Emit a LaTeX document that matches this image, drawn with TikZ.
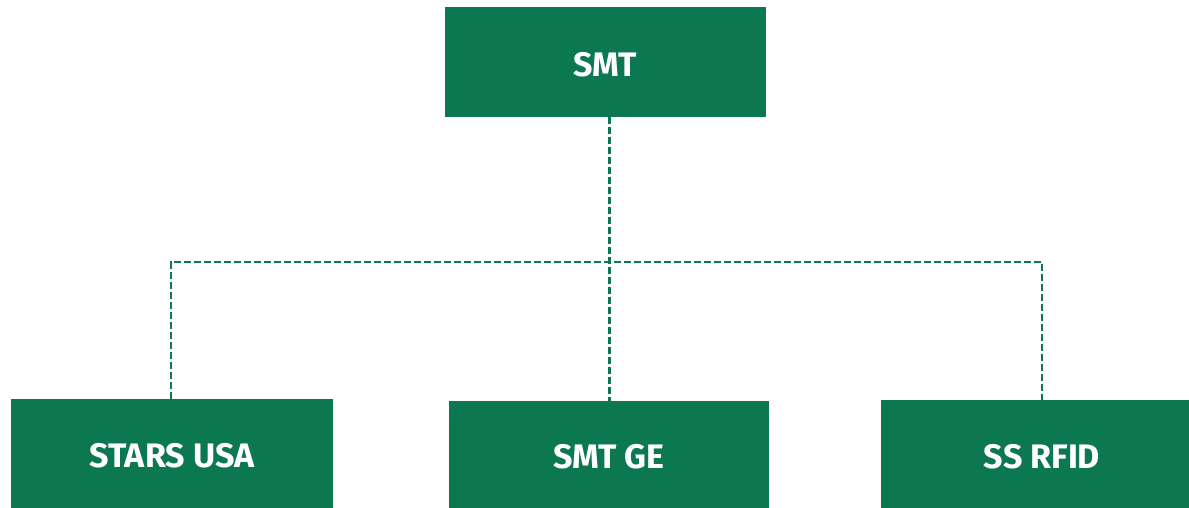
\documentclass[tikz,border=0pt]{standalone}
\usepackage{fontspec}
\setmainfont{Fira Sans}
\definecolor{smtgreen}{HTML}{0B7852}
\begin{document}
\begin{tikzpicture}[x=1pt,y=-1pt,
  orgbox/.style={fill=smtgreen, draw=none, inner sep=0pt, text=white,
    text height=28.4pt, text depth=0pt,
    font=\fontsize{34}{38}\selectfont\bfseries},
  link/.style={draw=smtgreen, line width=2.7pt, dash pattern=on 7pt off 3pt}]
\useasboundingbox (0,0) rectangle (1189,508);
\node[orgbox, minimum width=321pt, minimum height=110pt] (smt) at (605.5,62) {SMT};
\node[orgbox, minimum width=322pt, minimum height=109pt] (stars) at (172,453.5) {STARS USA};
\node[orgbox, minimum width=320pt, minimum height=107pt] (ge) at (609,454.5) {SMT GE};
\node[orgbox, minimum width=322pt, minimum height=108pt] (rfid) at (1042,454) {SS RFID};
\coordinate (hl) at (171,262);
\coordinate (hr) at (1042,262);
\draw[link] (609.5,117) -- (609.5,401);
\draw[link] (stars.north -| hl) -- (hl) -- (hr) -- (rfid.north -| hr);
\end{tikzpicture}
\end{document}
